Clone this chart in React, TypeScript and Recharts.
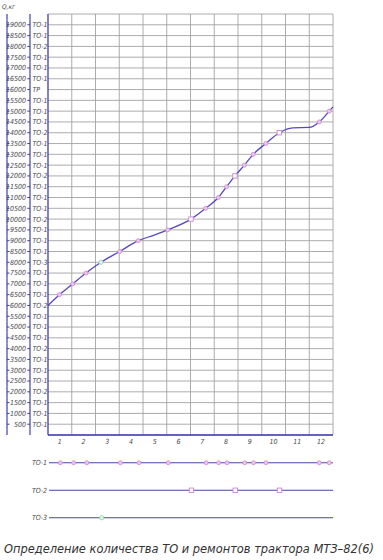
import React from "react";
import {
  ComposedChart, ScatterChart, Line, Scatter, XAxis, YAxis, CartesianGrid, ReferenceLine,
} from "recharts";

// Months (tick labels sit in the middle of each month column)
const MONTHS = ["1", "2", "3", "4", "5", "6", "7", "8", "9", "10", "11", "12"];
const MONTH_BOUNDS = [0, 1, 2, 3, 4, 5, 6, 7, 8, 9, 10, 11, 12];

// Extra readings of the cumulative fuel curve Q, kg (start, knee, plateau, end)
const CURVE_AT = [0, 4.5, 10.3, 11.0, 12];
const CURVE_Q = [6000, 9270, 14230, 14245, 15200];

// Maintenance events: position in months and the Q level they fall on
const TO1_AT = [0.48, 1.04, 1.6, 3.02, 3.8, 5.04, 6.64, 7.17, 7.52, 8.27, 8.64, 9.17, 11.42, 11.84];
const TO1_Q = [6500, 7000, 7500, 8500, 9000, 9500, 10500, 11000, 11500, 12500, 13000, 13500, 14500, 15000];
const TO2_AT = [6.02, 7.87, 9.74];
const TO2_Q = [10000, 12000, 14000];
const TO3_AT = [2.23];
const TO3_Q = [8000];

// Second axis labels, bottom (500 kg) to top (19000 kg)
const MAINT_LABELS = [
  "ТО-1", "ТО-1", "ТО-1", "ТО-2", "ТО-1", "ТО-1", "ТО-1", "ТО-2", "ТО-1", "ТО-1",
  "ТО-1", "ТО-2", "ТО-1", "ТО-1", "ТО-1", "ТО-3", "ТО-1", "ТО-1", "ТО-1", "ТО-2",
  "ТО-1", "ТО-1", "ТО-1", "ТО-2", "ТО-1", "ТО-1", "ТО-1", "ТО-2", "ТО-1", "ТО-1",
  "ТО-1", "ТР", "ТО-1", "ТО-1", "ТО-1", "ТО-2", "ТО-1", "ТО-1",
];
const Q_STEP = 500;
const Q_MAX = 19500;

const STRIP_ROWS = ["ТО-3", "ТО-2", "ТО-1"];

const TITLE = "Определение количества ТО и ремонтов трактора МТЗ–82(6)";

// ---- layout / style
const W = 383;
const MAIN_H = 450;
const MAIN_TOP = 14;
const X_AXIS_H = 15;
const PLOT_RIGHT_GAP = 50;
const Y_AXIS_W = 48;
const PLOT_H = MAIN_H - MAIN_TOP - X_AXIS_H;

const FONT = "'Liberation Sans Narrow','DejaVu Sans Condensed','DejaVu Sans',sans-serif";
const GRID = "#a3a3a3";
const AXIS_BLUE = "#3d3db3";
const CURVE = "#5548c0";
const PINK = "#cf86cf";
const TEXT = "#4a4a4a";

const Y_TICKS = [0, ...MAINT_LABELS.map((_, i) => (i + 1) * Q_STEP), Q_MAX];
const X_TICKS = MONTHS.map((_, i) => i + 0.5);

type Kind = "ТО-1" | "ТО-2" | "ТО-3" | undefined;
type Pt = { m: number; q: number; kind?: Kind };

const curveData: Pt[] = [
  ...CURVE_AT.map((m, i) => ({ m, q: CURVE_Q[i] })),
  ...TO1_AT.map((m, i) => ({ m, q: TO1_Q[i], kind: "ТО-1" as Kind })),
  ...TO2_AT.map((m, i) => ({ m, q: TO2_Q[i], kind: "ТО-2" as Kind })),
  ...TO3_AT.map((m, i) => ({ m, q: TO3_Q[i], kind: "ТО-3" as Kind })),
].sort((a, b) => a.m - b.m);

function Marker({ cx, cy, kind }: { cx: number; cy: number; kind: Kind }) {
  if (kind === "ТО-2")
    return <rect x={cx - 2.2} y={cy - 2.2} width={4.4} height={4.4} fill="#fff" stroke={PINK} strokeWidth={0.9} />;
  if (kind === "ТО-3")
    return <circle cx={cx} cy={cy} r={2.1} fill="#e6f7f2" stroke="#8fd0c0" strokeWidth={0.9} />;
  return <circle cx={cx} cy={cy} r={2} fill="#ecc6ec" stroke={PINK} strokeWidth={0.8} />;
}

function LevelTick(props: any) {
  const { y, payload } = props;
  const v = payload.value as number;
  const half = PLOT_H / (Y_TICKS.length - 1) / 2;
  const up = v < Q_MAX ? half : 0;
  const down = v > 0 ? half : 0;
  const idx = v / Q_STEP - 1;
  const showLabel = v > 0 && v < Q_MAX;
  return (
    <g>
      <line x1={7} x2={7} y1={y - up} y2={y + down} stroke={AXIS_BLUE} strokeWidth={1.2} />
      <line x1={30} x2={30} y1={y - up} y2={y + down} stroke={AXIS_BLUE} strokeWidth={1.2} />
      {showLabel && (
        <g>
          <line x1={7} x2={9.5} y1={y} y2={y} stroke={AXIS_BLUE} strokeWidth={1} />
          <line x1={27.3} x2={30} y1={y} y2={y} stroke={AXIS_BLUE} strokeWidth={1} />
          <text x={26} y={y} dy={2.4} textAnchor="end" fontSize={7} fontStyle="italic"
            fontFamily={FONT} fill={TEXT}>{v}</text>
          <text x={32.5} y={y} dy={2.4} textAnchor="start" fontSize={7} fontStyle="italic"
            fontFamily={FONT} fill={TEXT}>{MAINT_LABELS[idx]}</text>
        </g>
      )}
    </g>
  );
}

function MonthTick(props: any) {
  const { x, y, payload } = props;
  return (
    <text x={x} y={y} dy={1} textAnchor="middle" fontSize={7} fontStyle="italic"
      fontFamily={FONT} fill={TEXT}>
      {MONTHS[Math.round(payload.value - 0.5)]}
    </text>
  );
}

function RowTick(props: any) {
  const { y, payload } = props;
  return (
    <text x={47} y={y} dy={2.4} textAnchor="end" fontSize={7} fontStyle="italic"
      fontFamily={FONT} fill={TEXT}>
      {STRIP_ROWS[payload.value - 1]}
    </text>
  );
}

const stripTO1 = TO1_AT.map((m) => ({ m, row: 3 }));
const stripTO2 = TO2_AT.map((m) => ({ m, row: 2 }));
const stripTO3 = TO3_AT.map((m) => ({ m, row: 1 }));

export default function App() {
  return (
    <div style={{ position: "absolute", left: 0, top: 0, width: W, height: 560, background: "#fff" }}>
      <svg width={40} height={14} style={{ position: "absolute", left: 0, top: 0 }}>
        <text x={2} y={9} fontSize={6.5} fontStyle="italic" fontFamily={FONT} fill={TEXT}>Q,кг</text>
      </svg>

      <div style={{ position: "absolute", left: 0, top: 0 }}>
        <ComposedChart width={W} height={MAIN_H} data={curveData}
          margin={{ top: MAIN_TOP, right: PLOT_RIGHT_GAP, bottom: 0, left: 0 }}>
          <CartesianGrid vertical={false} stroke={GRID} strokeWidth={0.9} />
          {MONTH_BOUNDS.map((b) => (
            <ReferenceLine key={b} x={b} stroke={b === 0 ? AXIS_BLUE : GRID}
              strokeWidth={b === 0 ? 1.3 : 0.9} />
          ))}
          <XAxis dataKey="m" type="number" domain={[0, 12]} ticks={X_TICKS} interval={0}
            height={X_AXIS_H} tickLine={false} axisLine={{ stroke: AXIS_BLUE, strokeWidth: 1.3 }}
            tick={<MonthTick />} />
          <YAxis type="number" domain={[0, Q_MAX]} ticks={Y_TICKS} interval={0} width={Y_AXIS_W}
            axisLine={false} tickLine={false} tick={<LevelTick />} />
          <Line type="monotone" dataKey="q" stroke={CURVE} strokeWidth={1.3} isAnimationActive={false}
            activeDot={false}
            dot={(p: any) =>
              p.payload.kind
                ? <Marker key={`d${p.index}`} cx={p.cx} cy={p.cy} kind={p.payload.kind} />
                : <g key={`d${p.index}`} />
            } />
        </ComposedChart>
      </div>

      <div style={{ position: "absolute", left: 0, top: 440 }}>
        <ScatterChart width={W} height={100} margin={{ top: 9, right: PLOT_RIGHT_GAP, bottom: 8.5, left: 0 }}>
          <XAxis dataKey="m" type="number" domain={[0, 12]} hide />
          <YAxis dataKey="row" type="number" domain={[0.5, 3.5]} ticks={[1, 2, 3]} width={49}
            axisLine={false} tickLine={false} tick={<RowTick />} />
          {[1, 2, 3].map((r) => (
            <ReferenceLine key={r} y={r} stroke="#4a44a0" strokeWidth={1.1} />
          ))}
          <Scatter data={stripTO1} isAnimationActive={false}
            shape={(p: any) => <Marker cx={p.cx} cy={p.cy} kind="ТО-1" />} />
          <Scatter data={stripTO2} isAnimationActive={false}
            shape={(p: any) => <Marker cx={p.cx} cy={p.cy} kind="ТО-2" />} />
          <Scatter data={stripTO3} isAnimationActive={false}
            shape={(p: any) => <Marker cx={p.cx} cy={p.cy} kind="ТО-3" />} />
        </ScatterChart>
      </div>

      <svg width={W} height={28} style={{ position: "absolute", left: 0, top: 530 }}>
        <text x={4} y={23} fontSize={13} fontStyle="italic" fontFamily={FONT} fill="#333"
          textLength={370} lengthAdjust="spacingAndGlyphs">{TITLE}</text>
      </svg>
    </div>
  );
}
